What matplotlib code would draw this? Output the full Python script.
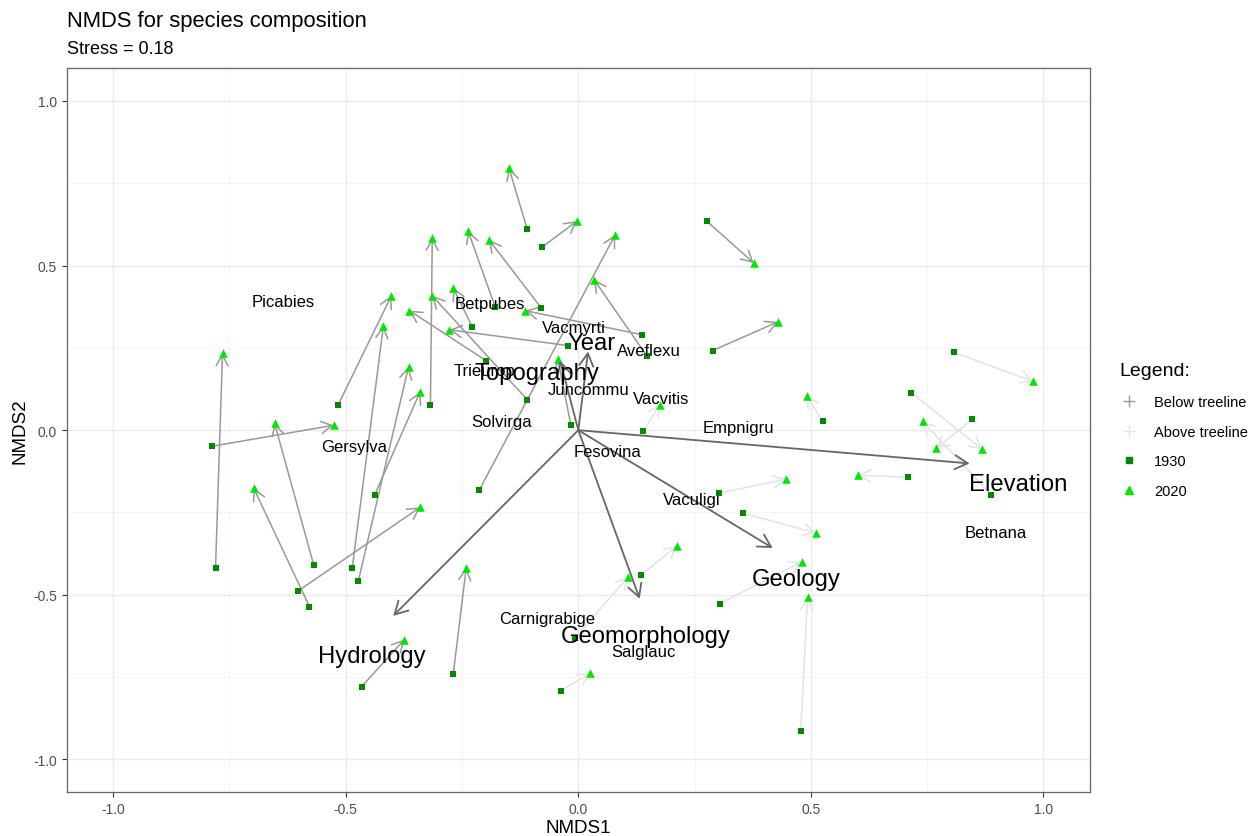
#!/usr/bin/env python3
"""
plot.py

NMDS ordination of species composition: 1930 -> 2020 shifts per plot,
fitted environmental vectors and species scores.
"""

import matplotlib
matplotlib.use("Agg")
import matplotlib.pyplot as plt
from matplotlib.lines import Line2D
from matplotlib.ticker import MultipleLocator

# ─── Data ─────────────────────────────────────────────────────────────────────
# plot scores, 1930 survey
x1930 = [-0.780, -0.788, -0.569, -0.578, -0.602, -0.486, -0.473, -0.438, -0.516, -0.318,
         -0.110, -0.198, -0.228, -0.022, -0.179, -0.080, -0.110, -0.078, -0.213, 0.147,
         0.137, -0.016, 0.276, 0.289, 0.808, 0.525, 0.139, 0.716, 0.847, 0.888,
         0.708, 0.302, 0.353, 0.304, 0.478, 0.135, -0.007, -0.037, -0.269, -0.466]
y1930 = [-0.418, -0.049, -0.409, -0.536, -0.488, -0.418, -0.458, -0.197, 0.078, 0.075,
         0.093, 0.211, 0.314, 0.257, 0.375, 0.372, 0.611, 0.556, -0.182, 0.226,
         0.290, 0.015, 0.635, 0.242, 0.236, 0.027, -0.004, 0.114, 0.033, -0.197,
         -0.143, -0.191, -0.252, -0.527, -0.915, -0.440, -0.630, -0.791, -0.742, -0.779]
# plot scores, 2020 resurvey
x2020 = [-0.765, -0.526, -0.653, -0.698, -0.340, -0.419, -0.365, -0.340, -0.402, -0.314,
         -0.314, -0.363, -0.269, -0.277, -0.237, -0.192, -0.149, -0.003, 0.079, 0.034,
         -0.114, -0.044, 0.377, 0.429, 0.978, 0.491, 0.175, 0.868, 0.770, 0.740,
         0.602, 0.446, 0.510, 0.480, 0.493, 0.212, 0.107, 0.025, -0.241, -0.374]
y2020 = [0.233, 0.015, 0.021, -0.176, -0.234, 0.317, 0.193, 0.117, 0.408, 0.584,
         0.408, 0.363, 0.432, 0.305, 0.605, 0.578, 0.796, 0.635, 0.593, 0.457,
         0.363, 0.217, 0.508, 0.329, 0.148, 0.105, 0.078, -0.058, -0.055, 0.027,
         -0.137, -0.149, -0.312, -0.400, -0.506, -0.352, -0.446, -0.739, -0.418, -0.636]
treeline = ["Below"] * 24 + ["Above"] * 14 + ["Below"] * 2

# fitted environmental vectors
env_names = ["Elevation", "Geology", "Geomorphology", "Hydrology", "Topography", "Year"]
env_x = [0.841, 0.418, 0.132, -0.398, -0.039, 0.021]
env_y = [-0.101, -0.358, -0.512, -0.564, 0.211, 0.239]
env_lab_x = [0.946, 0.469, 0.145, -0.445, -0.089, 0.029]
env_lab_y = [-0.164, -0.452, -0.624, -0.685, 0.175, 0.266]

# species scores
sp_names = ["Picabies", "Betpubes", "Vacmyrti", "Aveflexu", "Trieurop", "Juncommu",
            "Vacvitis", "Solvirga", "Empnigru", "Fesovina", "Gersylva", "Vaculigi",
            "Betnana", "Carnigrabige", "Salglauc"]
sp_x = [-0.634, -0.190, -0.009, 0.151, -0.202, 0.023, 0.179, -0.166, 0.344, 0.062,
        -0.482, 0.243, 0.898, -0.067, 0.139]
sp_y = [0.390, 0.384, 0.311, 0.242, 0.181, 0.124, 0.096, 0.027, 0.008, -0.064,
        -0.049, -0.210, -0.310, -0.573, -0.673]


def main():
    plt.rcParams["font.family"] = ["Liberation Sans", "DejaVu Sans"]

    zone_col = {"Below": "#999999", "Above": "#e3e3e3"}
    col1930 = "#008a00"
    col2020 = "#00e600"

    fig = plt.figure(figsize=(12.56, 8.37), dpi=100)
    ax = fig.add_axes([0.0531, 0.0522, 0.8147, 0.8653])

    # ─── 1) Panel, theme_bw-ish ─────────────────────────────────────────────────
    ax.set_xlim(-1.1, 1.1)
    ax.set_ylim(-1.1, 1.1)
    ax.xaxis.set_major_locator(MultipleLocator(0.5))
    ax.yaxis.set_major_locator(MultipleLocator(0.5))
    ax.xaxis.set_minor_locator(MultipleLocator(0.25))
    ax.yaxis.set_minor_locator(MultipleLocator(0.25))
    ax.grid(which="major", color="#ebebeb", lw=1.0)
    ax.grid(which="minor", color="#f2f2f2", lw=0.6)
    ax.set_axisbelow(True)
    for s in ax.spines.values():
        s.set_color("#666666")
        s.set_linewidth(0.9)
    ax.tick_params(which="major", length=3.5, width=0.8, color="#333333",
                   labelcolor="#4d4d4d", labelsize=10)
    ax.tick_params(which="minor", length=0)
    ax.xaxis.set_major_formatter(plt.FuncFormatter(lambda v, p: f"{v:.1f}"))
    ax.yaxis.set_major_formatter(plt.FuncFormatter(lambda v, p: f"{v:.1f}"))
    ax.set_xlabel("NMDS1", fontsize=13.5, labelpad=2)
    ax.set_ylabel("NMDS2", fontsize=13.5, labelpad=3)

    # ─── 2) Plot shift arrows 1930 -> 2020 ─────────────────────────────────────
    for xa, ya, xb, yb, z in zip(x1930, y1930, x2020, y2020, treeline):
        ax.annotate("", xy=(xb, yb), xytext=(xa, ya),
                    arrowprops=dict(arrowstyle="->,head_length=0.65,head_width=0.36",
                                    color=zone_col[z], lw=1.1, shrinkA=0, shrinkB=0,
                                    mutation_scale=12),
                    zorder=2)

    ax.scatter(x1930, y1930, marker="s", s=25, color=col1930, linewidths=0, zorder=3)
    ax.scatter(x2020, y2020, marker="^", s=38, color=col2020, linewidths=0, zorder=3)

    # ─── 3) Environmental vectors ──────────────────────────────────────────────
    for ex, ey in zip(env_x, env_y):
        ax.annotate("", xy=(ex, ey), xytext=(0, 0),
                    arrowprops=dict(arrowstyle="->,head_length=0.65,head_width=0.36",
                                    color="#666666", lw=1.3, shrinkA=0, shrinkB=0,
                                    mutation_scale=14),
                    zorder=4)

    # ─── 4) Labels ─────────────────────────────────────────────────────────────
    for name, sx, sy in zip(sp_names, sp_x, sp_y):
        ax.text(sx, sy, name, fontsize=12, ha="center", va="center", zorder=5)
    for name, lx, ly in zip(env_names, env_lab_x, env_lab_y):
        ax.text(lx, ly, name, fontsize=17.2, ha="center", va="center", zorder=6)

    # ─── 5) Titles ─────────────────────────────────────────────────────────────
    fig.text(0.0531, 1 - 21 / 837, "NMDS for species composition",
             fontsize=15.8, ha="left", va="center")
    fig.text(0.0531, 1 - 49 / 837, "Stress = 0.18",
             fontsize=13, ha="left", va="center")

    # ─── 6) Legend ─────────────────────────────────────────────────────────────
    handles = [
        Line2D([], [], marker="+", color=zone_col["Below"], ls="none", ms=9, mew=1),
        Line2D([], [], marker="+", color=zone_col["Above"], ls="none", ms=9, mew=1),
        Line2D([], [], marker="s", color=col1930, ls="none", ms=5),
        Line2D([], [], marker="^", color=col2020, ls="none", ms=6),
    ]
    labels = ["Below treeline", "Above treeline", "1930", "2020"]
    fig.legend(handles, labels, title="Legend:", loc="upper left",
               bbox_to_anchor=(1106 / 1256, 1 - 350 / 837), frameon=False,
               fontsize=10.5, title_fontsize=14, alignment="left",
               labelspacing=1.08, handlelength=1.4, handletextpad=1.0)

    fig.savefig("out.png", dpi=100)


if __name__ == "__main__":
    main()
